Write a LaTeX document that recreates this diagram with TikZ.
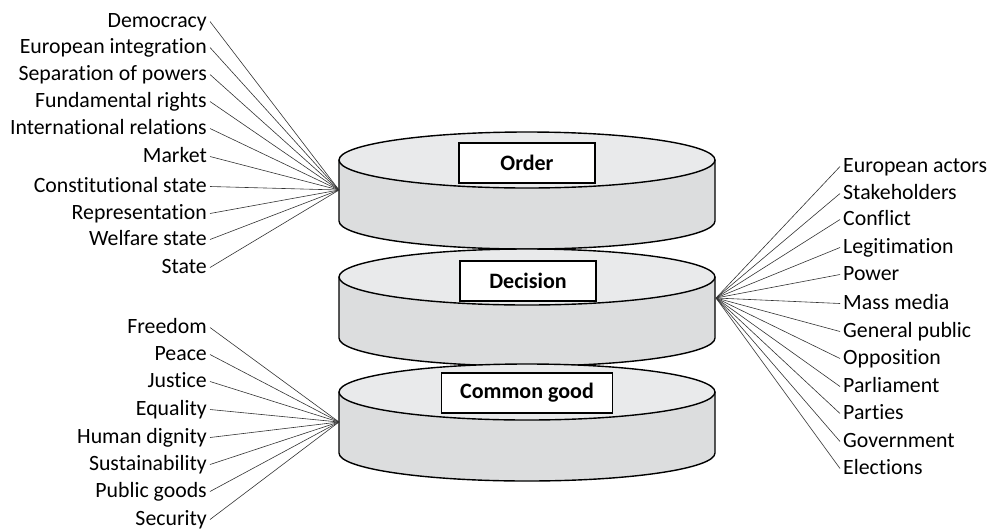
\documentclass[tikz,border=0pt]{standalone}
\usepackage{fontspec}
\setmainfont{Carlito}[Ligatures={NoCommon,NoContextual}]
\definecolor{topgray}{HTML}{E9EAEB}
\definecolor{sidegray}{HTML}{DCDDDE}
\begin{document}
\begin{tikzpicture}[x=1pt,y=1pt,
  lab/.style={font=\fontsize{21.8}{24}\selectfont, inner xsep=3pt, inner ysep=0pt, text height=15pt, text depth=4pt},
  link/.style={draw=black!80, line width=0.6pt},
  box/.style={draw=black, fill=white, line width=1.2pt, font=\fontsize{22}{26}\selectfont\bfseries, minimum width=136pt, minimum height=40pt, inner xsep=19pt},
  cylside/.style={fill=sidegray, draw=black, line width=1.4pt, line join=round},
  cyltop/.style={fill=topgray, draw=black, line width=1.4pt},
  cyl/.pic={
    \path[cylside] (-188,0) -- (-188,-61) arc[start angle=180,end angle=360,x radius=188pt,y radius=28pt] -- (188,0) -- cycle;
    \path[cyltop] (0,0) ellipse[x radius=188pt, y radius=28pt];
  }]
\useasboundingbox (0,0) rectangle (1003,-531);
\pic at (527,-160) {cyl};
\pic at (527,-277) {cyl};
\pic at (527,-392) {cyl};
\node[box] (order) at (527,-163) {Order};
\node[box] (decision) at (528,-281) {Decision};
\node[box] (common) at (527,-393) {Common good};
\coordinate (fanO) at (339,-190);
\coordinate (fanD) at (716,-298);
\coordinate (fanC) at (339,-422);
\foreach \t/\y [count=\i] in {Democracy/20, European integration/46, Separation of powers/73, Fundamental rights/100, International relations/127, Market/155, Constitutional state/185, Representation/212, Welfare state/238, State/266}{
  \node[lab, anchor=east] (o\i) at (210,-\y-1.5) {\t};
  \draw[link] (o\i.east) -- (fanO);
}
\foreach \t/\y [count=\i] in {Freedom/326, Peace/353, Justice/380, Equality/408, Human dignity/436, Sustainability/463, Public goods/490, Security/518}{
  \node[lab, anchor=east] (c\i) at (210,-\y-1.5) {\t};
  \draw[link] (c\i.east) -- (fanC);
}
\foreach \t/\y [count=\i] in {European actors/165, Stakeholders/192, Conflict/218, Legitimation/246, Power/273, Mass media/302, General public/330, Opposition/357, Parliament/385, Parties/412, Government/440, Elections/467}{
  \node[lab, anchor=west] (d\i) at (840,-\y-1.5) {\t};
  \draw[link] (fanD) -- (d\i.west);
}
\end{tikzpicture}
\end{document}
